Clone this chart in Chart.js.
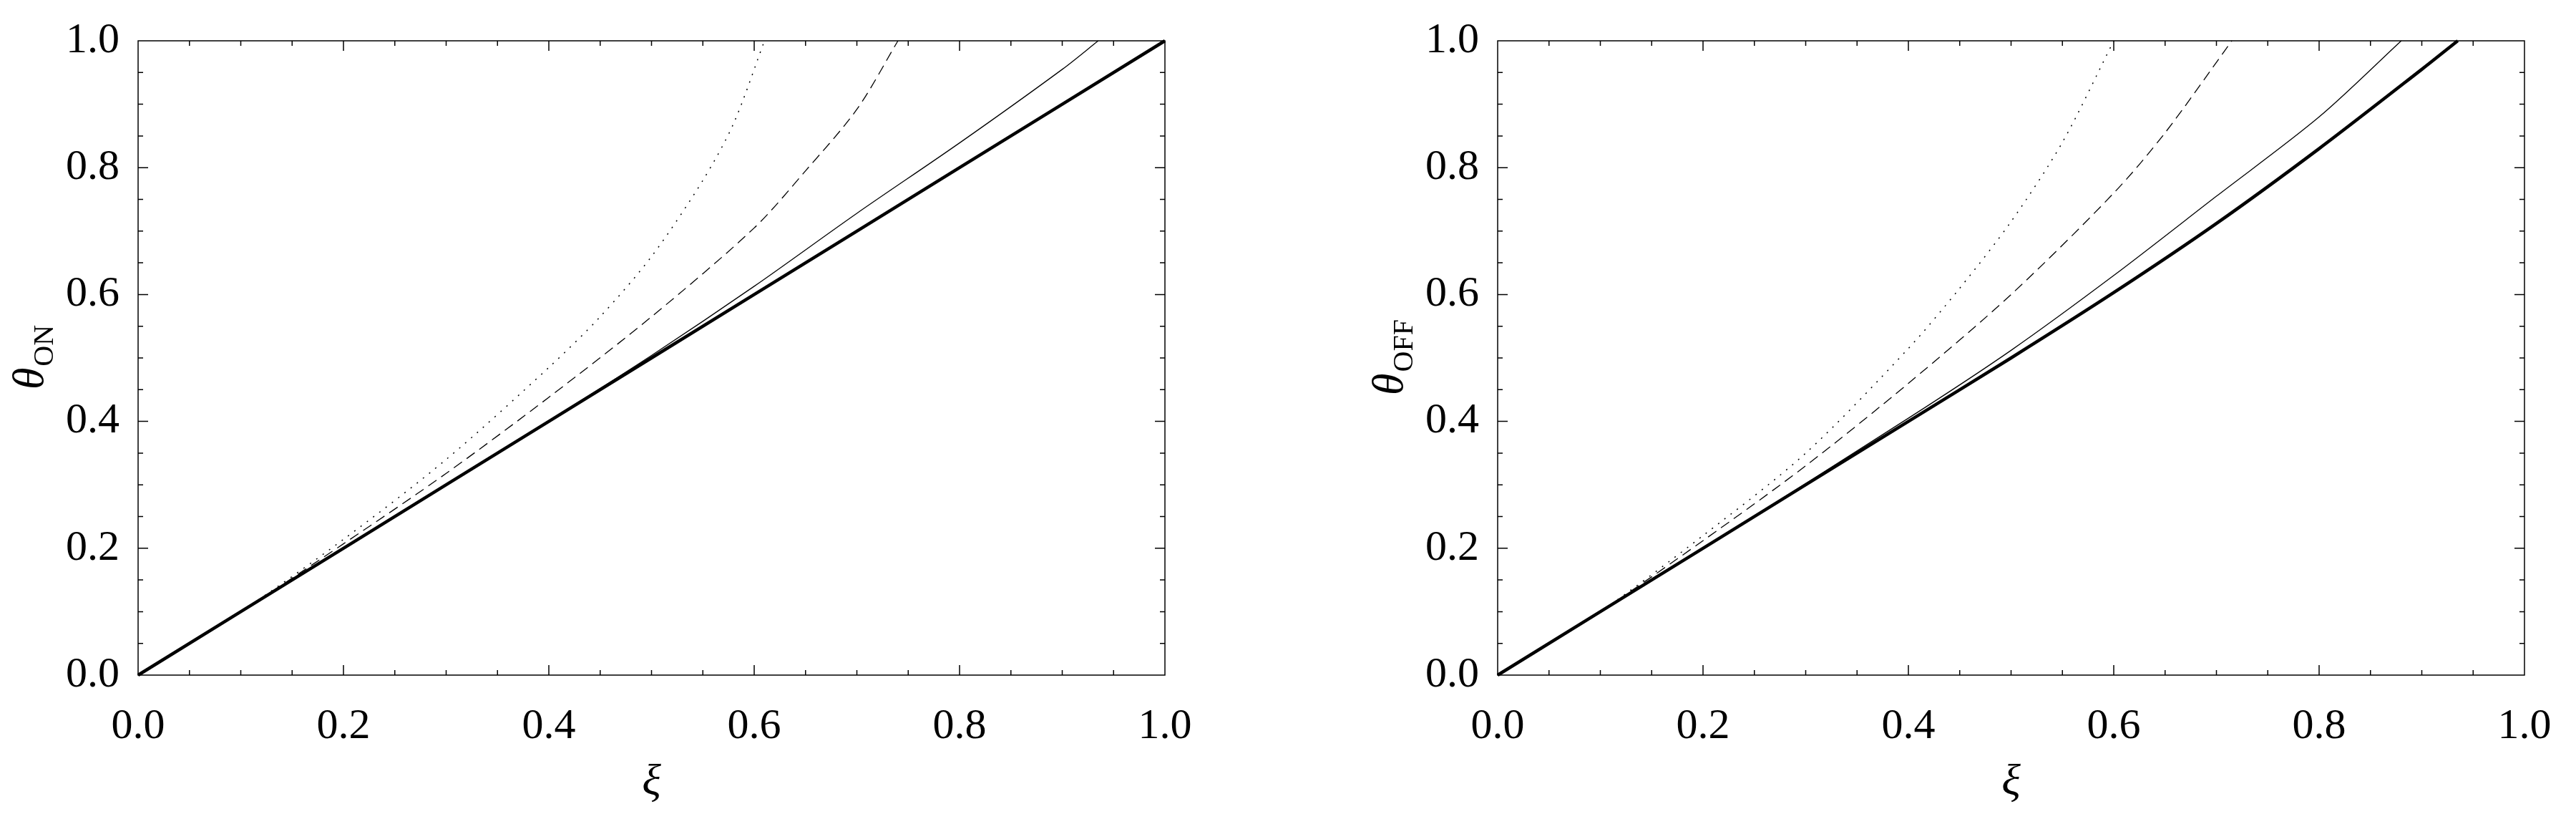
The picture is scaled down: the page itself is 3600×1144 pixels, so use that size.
<!DOCTYPE html>
<html>
<head>
<meta charset="utf-8">
<script src="https://cdn.jsdelivr.net/npm/chart.js@4"></script>
<style>
  body { margin: 0; background: #fff; }
  .wrap { position: absolute; top: 0; width: 1800px; height: 1144px; }
</style>
</head>
<body>
<div class="wrap" style="left:0"><canvas id="on"></canvas></div>
<div class="wrap" style="left:1800px"><canvas id="off"></canvas></div>
<script>
// theta_ON panel
const onThick = [[0, 0], [0.2, 0.2], [0.4, 0.4], [0.6, 0.6], [0.8, 0.8], [1.0, 1.0]];
const onThin = [[0, 0], [0.2, 0.2], [0.4, 0.401], [0.5, 0.504], [0.6, 0.613], [0.7, 0.728], [0.8, 0.839], [0.9, 0.955], [0.935, 1.0]];
const onDashed = [[0, 0], [0.1, 0.1], [0.2, 0.207], [0.3, 0.318], [0.4, 0.438], [0.5, 0.565], [0.6, 0.705], [0.65, 0.795], [0.7, 0.892], [0.74, 1.0]];
const onDotted = [[0, 0], [0.1, 0.1], [0.2, 0.214], [0.3, 0.34], [0.4, 0.485], [0.45, 0.565], [0.5, 0.66], [0.55, 0.78], [0.58, 0.87], [0.61, 1.0]];

// theta_OFF panel
const offThick = [[0, 0], [0.2, 0.2], [0.4, 0.4], [0.5, 0.5], [0.6, 0.603], [0.7, 0.712], [0.8, 0.83], [0.9, 0.955], [0.935, 1.0]];
const offThin = [[0, 0], [0.2, 0.2], [0.4, 0.405], [0.5, 0.512], [0.6, 0.63], [0.7, 0.755], [0.8, 0.88], [0.88, 1.0]];
const offDashed = [[0, 0], [0.1, 0.1], [0.2, 0.212], [0.3, 0.33], [0.4, 0.46], [0.5, 0.6], [0.6, 0.76], [0.65, 0.855], [0.715, 1.0]];
const offDotted = [[0, 0], [0.1, 0.1], [0.2, 0.22], [0.3, 0.35], [0.4, 0.515], [0.45, 0.61], [0.5, 0.715], [0.55, 0.84], [0.6, 1.0]];

const xTicks = [0, 0.2, 0.4, 0.6, 0.8, 1.0];
const FONT = "'Liberation Serif', 'DejaVu Serif', serif";

const toXY = (arr) => arr.map(([x, y]) => ({ x, y }));

// Mathematica-style frame with inward ticks on all four sides
const frameTicks = {
  id: "frameTicks",
  afterDatasetsDraw(chart, args, opts) {
    const { ctx, chartArea: a, scales } = chart;
    ctx.save();
    ctx.strokeStyle = "#000";
    ctx.lineWidth = 1.5;
    ctx.strokeRect(a.left, a.top, a.right - a.left, a.bottom - a.top);
    for (let i = 1; i < 20; i++) {
      const v = i * 0.05;
      const len = i % 4 === 0 ? 14 : 7;
      const px = scales.x.getPixelForValue(v);
      const py = scales.y.getPixelForValue(v);
      ctx.beginPath();
      ctx.moveTo(px, a.bottom); ctx.lineTo(px, a.bottom - len);
      ctx.moveTo(px, a.top); ctx.lineTo(px, a.top + len);
      ctx.moveTo(a.left, py); ctx.lineTo(a.left + len, py);
      ctx.moveTo(a.right, py); ctx.lineTo(a.right - len, py);
      ctx.stroke();
    }
    // axis titles
    ctx.fillStyle = "#000";
    ctx.textAlign = "center";
    ctx.textBaseline = "alphabetic";
    ctx.font = "italic 62px " + FONT;
    ctx.fillText("ξ", (a.left + a.right) / 2, 1110);
    ctx.translate(opts.titleX, (a.top + a.bottom) / 2);
    ctx.rotate(-Math.PI / 2);
    ctx.font = "italic 62px " + FONT;
    const w1 = ctx.measureText("θ").width;
    ctx.font = "40px " + FONT;
    const w2 = ctx.measureText(opts.sub).width;
    const start = -(w1 + w2) / 2;
    ctx.textAlign = "left";
    ctx.font = "italic 62px " + FONT;
    ctx.fillText("θ", start, 0);
    ctx.font = "40px " + FONT;
    ctx.fillText(opts.sub, start + w1 + 2, 14);
    ctx.restore();
  },
};

const makeChart = (id, thick, thin, dashed, dotted, sub, padLeft, padRight, titleX) => {
  return new Chart(document.getElementById(id), {
    type: "scatter",
    data: {
      datasets: [
        { data: toXY(dotted), borderColor: "#000", borderWidth: 1.5, borderDash: [2, 9] },
        { data: toXY(dashed), borderColor: "#000", borderWidth: 1.3, borderDash: [14, 8] },
        { data: toXY(thin), borderColor: "#000", borderWidth: 1.3 },
        { data: toXY(thick), borderColor: "#000", borderWidth: 4.5 },
      ].map((d) => ({ ...d, showLine: true, pointRadius: 0, tension: 0.3, clip: false })),
    },
    options: {
      responsive: false,
      animation: false,
      devicePixelRatio: 1,
      layout: { padding: { top: 57, right: padRight, left: 0, bottom: 0 } },
      plugins: { legend: { display: false }, tooltip: { enabled: false }, frameTicks: { sub, titleX } },
      scales: {
        x: {
          type: "linear", min: 0, max: 1,
          grid: { display: false }, border: { display: false },
          afterBuildTicks: (axis) => { axis.ticks = xTicks.map((v) => ({ value: v })); },
          afterFit: (axis) => { axis.height = 201; },
          ticks: { padding: 28, color: "#000", font: { family: FONT, size: 60 }, callback: (v) => v.toFixed(1), maxRotation: 0 },
        },
        y: {
          type: "linear", min: 0, max: 1,
          grid: { display: false }, border: { display: false },
          afterBuildTicks: (axis) => { axis.ticks = xTicks.map((v) => ({ value: v })); },
          afterFit: (axis) => { axis.width = padLeft; },
          ticks: { padding: 18, color: "#000", font: { family: FONT, size: 60 }, callback: (v) => v.toFixed(1) },
        },
      },
    },
    plugins: [frameTicks],
  });
};

for (const id of ["on", "off"]) {
  const c = document.getElementById(id);
  c.width = 1800; c.height = 1144;
  c.style.width = "1800px"; c.style.height = "1144px";
}

makeChart("on", onThick, onThin, onDashed, onDotted, "ON", 193, 172, 60);
makeChart("off", offThick, offThin, offDashed, offDotted, "OFF", 293, 72, 160);
</script>
</body>
</html>
